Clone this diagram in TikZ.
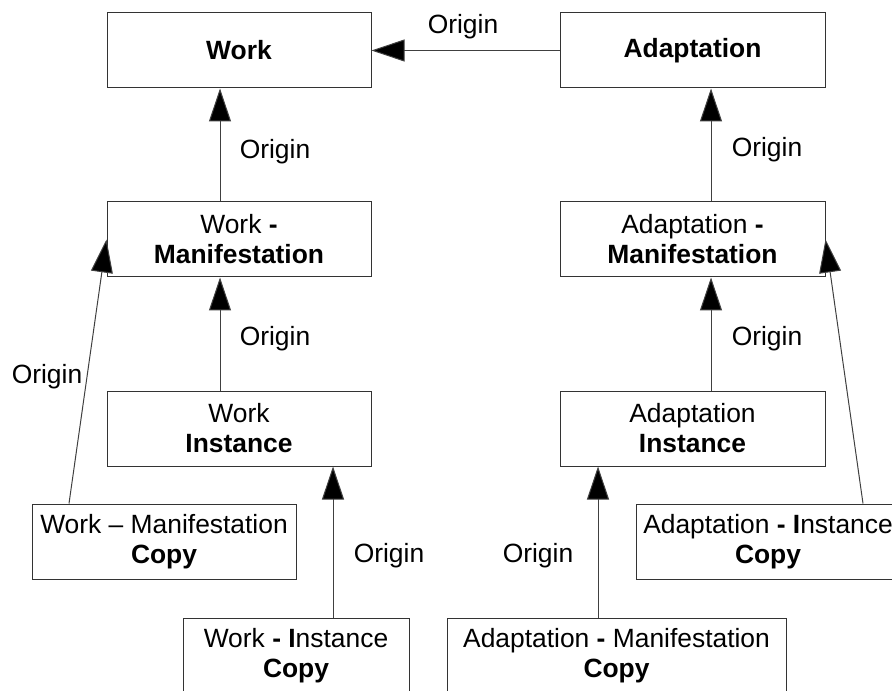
\documentclass[tikz,border=0pt]{standalone}
\usepackage{fontspec}
\setmainfont{Liberation Sans}
\usetikzlibrary{arrows.meta,calc}

\begin{document}
\begin{tikzpicture}[x=0.75pt,y=-0.75pt,
  entity/.style={draw=black!80, line width=0.75pt, fill=white, rectangle,
    minimum height=56.25pt, inner sep=0pt, align=center,
    font=\fontsize{19.8}{22.5}\selectfont},
  origin/.style={draw=black!75, line width=0.75pt,
    -{Triangle[length=24.75pt,width=16.5pt,fill=black]}},
  lbl/.style={font=\fontsize{19.8}{22.5}\selectfont, inner sep=0pt}]

  \path[use as bounding box, clip] (0,0) rectangle (892,691);

  % upper entities
  \node[entity, minimum width=198pt] (work) at (239,50.5) {\textbf{Work}};
  \node[entity, minimum width=198.75pt] (adapt) at (692.5,50.5) {\textbf{Adaptation}};

  % manifestations and instances
  \node[entity, minimum width=198pt] (wm) at (239,239.5) {Work \textbf{-}\\\textbf{Manifestation}};
  \node[entity, minimum width=198pt] (wi) at (239,428.5) {Work\\\textbf{Instance}};
  \node[entity, minimum width=198.75pt] (am) at (692.5,239.5) {Adaptation \textbf{-}\\\textbf{Manifestation}};
  \node[entity, minimum width=198.75pt] (ai) at (692.5,428.5) {Adaptation\\\textbf{Instance}};

  % copies
  \node[entity, minimum width=198pt] (wmc) at (164,541.5) {Work -- Manifestation\\\textbf{Copy}};
  \node[entity, minimum width=169.5pt] (wic) at (296,655.5) {Work \textbf{- I}nstance\\\textbf{Copy}};
  \node[entity, minimum width=254.25pt] (amc) at (616.5,655.5) {Adaptation \textbf{-} Manifestation\\\textbf{Copy}};
  \node[entity, minimum width=198pt] (aic) at (768,541.5) {Adaptation \textbf{- I}nstance\\\textbf{Copy}};

  % origin relations
  \draw[origin] (adapt.west) -- (work.east);
  \draw[origin] ($(wm.north)+(-19,0)$) -- ($(work.south)+(-19,0)$);
  \draw[origin] ($(wi.north)+(-19,0)$) -- ($(wm.south)+(-19,0)$);
  \draw[origin] ($(am.north)+(18.5,0)$) -- ($(adapt.south)+(18.5,0)$);
  \draw[origin] ($(ai.north)+(18.5,0)$) -- ($(am.south)+(18.5,0)$);
  \draw[origin] ($(wmc.north)+(-95,0)$) -- (wm.west);
  \draw[origin] ($(aic.north)+(95,0)$) -- (am.east);
  \draw[origin] ($(wic.north)+(37,0)$) -- ($(wi.south)+(94,0)$);
  \draw[origin] ($(amc.north)+(-18.5,0)$) -- ($(ai.south)+(-94.5,0)$);

  % relation labels
  \node[lbl] (o1) at (463,27) {Origin};
  \node[lbl] (o2) at (275,152) {Origin};
  \node[lbl] (o3) at (767,150) {Origin};
  \node[lbl] (o4) at (275,339) {Origin};
  \node[lbl] (o5) at (767,339) {Origin};
  \node[lbl] (o6) at (47,377) {Origin};
  \node[lbl] (o7) at (389,556) {Origin};
  \node[lbl] (o8) at (538,556) {Origin};
\end{tikzpicture}
\end{document}
